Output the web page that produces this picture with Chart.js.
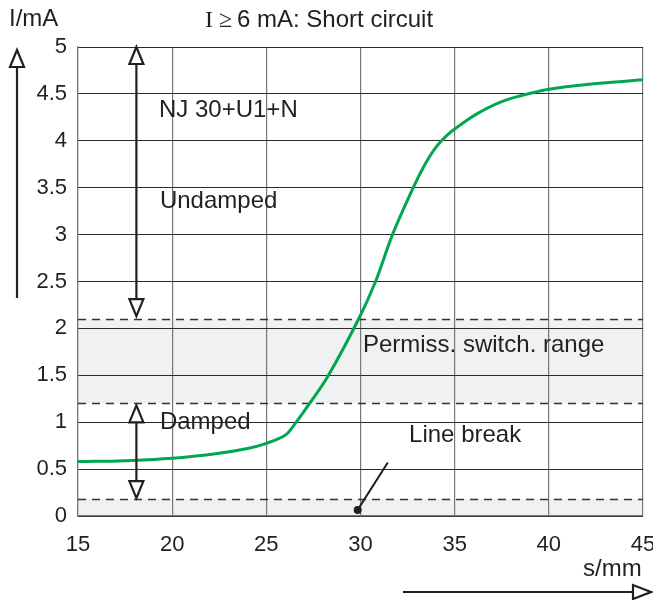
<!DOCTYPE html>
<html>
<head>
<meta charset="utf-8">
<script src="https://cdn.jsdelivr.net/npm/chart.js@4.4.0/dist/chart.umd.min.js"></script>
<style>
body{margin:0;background:#fff;}
</style>
</head>
<body>
<canvas id="myChart" width="653" height="600"></canvas>
<script>
// -- switching curve: distance s/mm -> current I/mA --
const sVals = [15, 17.5, 20, 22.5, 24, 25, 26, 26.4, 27.3, 28.3, 29.9, 30.8, 31.7, 32.8, 33.4, 34.0, 34.6, 35.3, 36.2, 37.4, 38.5, 40, 42, 45];
const iVals = [0.58, 0.59, 0.615, 0.67, 0.72, 0.775, 0.86, 0.95, 1.2, 1.5, 2.1, 2.5, 3.0, 3.5, 3.74, 3.93, 4.06, 4.17, 4.29, 4.41, 4.48, 4.55, 4.6, 4.65];

// -- shaded ranges and dashed limits (mA) --
const bandRanges = [[1.2, 2.1], [0, 0.18]];
const dashLevels = [2.1, 1.2, 0.18];

// -- double arrows at s = 18.1 (undamped / damped) --
const arrowS = 18.1;
const undampedSpan = [5.0, 2.13];
const dampedSpan = [1.18, 0.19];

// -- line break marker: dot -> leader end --
const breakDot = [29.85, 0.065];
const breakEnd = [31.45, 0.57];

// -- text notes, placed in data units --
const notes = [
    {text: 'NJ 30+U1+N', s: 19.3, i: 4.25},
    {text: 'Undamped', s: 19.35, i: 3.28},
    {text: 'Damped', s: 19.35, i: 0.93},
    {text: 'Permiss. switch. range', s: 30.13, i: 1.75},
    {text: 'Line break', s: 32.58, i: 0.79}
];

const ink = '#231f20';
const sans = '"Liberation Sans", Arial, sans-serif';

function arrowHead(ctx, tx, ty, dir, len, half)
{
    ctx.beginPath();
    ctx.moveTo(tx, ty);
    if (dir == 'up') { ctx.lineTo(tx - half, ty + len); ctx.lineTo(tx + half, ty + len); }
    else if (dir == 'down') { ctx.lineTo(tx - half, ty - len); ctx.lineTo(tx + half, ty - len); }
    else { ctx.lineTo(tx - len, ty - half); ctx.lineTo(tx - len, ty + half); }
    ctx.closePath();
    ctx.fillStyle = '#fff';
    ctx.fill();
    ctx.stroke();
}

function doubleArrow(ctx, px, top, bot)
{
    const len = 17, half = 7;
    ctx.beginPath();
    ctx.moveTo(px, top + len);
    ctx.lineTo(px, bot - len);
    ctx.stroke();
    arrowHead(ctx, px, top, 'up', len, half);
    arrowHead(ctx, px, bot, 'down', len, half);
}

const decorations = {
    id: 'decorations',
    beforeDraw(chart) {
        const {ctx, chartArea: a, scales: {y}} = chart;
        ctx.save();
        ctx.fillStyle = '#f0f1f3';
        for (const [lo, hi] of bandRanges) {
            const t = y.getPixelForValue(hi), b = y.getPixelForValue(lo);
            ctx.fillRect(a.left, t, a.right - a.left, b - t);
        }
        ctx.restore();
    },
    beforeDatasetsDraw(chart) {
        const {ctx, chartArea: a, scales: {y}} = chart;
        ctx.save();
        ctx.strokeStyle = '#333';
        ctx.lineWidth = 1.5;
        ctx.setLineDash([8, 6]);
        for (const v of dashLevels) {
            const py = Math.round(y.getPixelForValue(v)) + 0.5;
            ctx.beginPath();
            ctx.moveTo(a.left, py);
            ctx.lineTo(a.right, py);
            ctx.stroke();
        }
        ctx.restore();
    },
    afterDatasetsDraw(chart) {
        const {ctx, chartArea: a, scales: {x, y}} = chart;
        ctx.save();
        ctx.strokeStyle = ink;
        ctx.lineWidth = 2.2;

        const ax = x.getPixelForValue(arrowS);
        doubleArrow(ctx, ax, y.getPixelForValue(undampedSpan[0]), y.getPixelForValue(undampedSpan[1]));
        doubleArrow(ctx, ax, y.getPixelForValue(dampedSpan[0]), y.getPixelForValue(dampedSpan[1]));

        // axis direction arrows outside the plot
        const lx = a.left - 61;
        ctx.beginPath();
        ctx.moveTo(lx, a.top + 20);
        ctx.lineTo(lx, a.top + 251);
        ctx.stroke();
        arrowHead(ctx, lx, a.top + 3, 'up', 17, 7);
        const by = a.bottom + 76;
        ctx.beginPath();
        ctx.moveTo(a.left + 325, by);
        ctx.lineTo(a.right - 10, by);
        ctx.stroke();
        arrowHead(ctx, a.right + 8, by, 'right', 18, 7);

        // line break leader
        const dx = x.getPixelForValue(breakDot[0]), dy = y.getPixelForValue(breakDot[1]);
        ctx.lineWidth = 2;
        ctx.beginPath();
        ctx.moveTo(dx, dy);
        ctx.lineTo(x.getPixelForValue(breakEnd[0]), y.getPixelForValue(breakEnd[1]));
        ctx.stroke();
        ctx.fillStyle = ink;
        ctx.beginPath();
        ctx.arc(dx, dy, 4, 0, Math.PI * 2);
        ctx.fill();

        // notes
        ctx.font = '24px ' + sans;
        ctx.textAlign = 'left';
        ctx.textBaseline = 'alphabetic';
        for (const n of notes)
            ctx.fillText(n.text, x.getPixelForValue(n.s), y.getPixelForValue(n.i));

        // axis names and header
        ctx.fillText('I/mA', 9, 26);
        ctx.fillText('s/mm', 583, 576);
        ctx.font = '24px "Liberation Serif", "Times New Roman", serif';
        ctx.fillText('I \u2265', 205, 27);
        ctx.font = '24px ' + sans;
        ctx.fillText('6 mA: Short circuit', 237, 27);
        ctx.restore();
    }
};

const ctx = document.getElementById('myChart').getContext('2d');
const myChart = new Chart(ctx, {
    type: 'scatter',
    data: {
        datasets: [{
            data: sVals.map((s, k) => ({x: s, y: iVals[k]})),
            showLine: true,
            borderColor: '#00a650',
            borderWidth: 3,
            pointRadius: 0,
            tension: 0.4
        }]
    },
    options: {
        responsive: false,
        animation: false,
        devicePixelRatio: 1,
        layout: {padding: {top: 47, right: 10, bottom: 0, left: 0}},
        plugins: {legend: {display: false}, tooltip: {enabled: false}},
        scales: {
            x: {
                type: 'linear', min: 15, max: 45,
                afterFit: s => { s.height = 84; s.paddingLeft = 0; s.paddingRight = 0; },
                ticks: {stepSize: 5, color: ink, font: {family: sans, size: 22}, padding: 16, maxRotation: 0},
                grid: {color: '#777', lineWidth: 1.2, drawTicks: false},
                border: {color: '#777', width: 1.2}
            },
            y: {
                type: 'linear', min: 0, max: 5,
                afterFit: s => { s.width = 78; s.paddingTop = 0; s.paddingBottom = 0; },
                ticks: {stepSize: 0.5, color: ink, font: {family: sans, size: 22}, padding: 11, callback: v => String(v)},
                grid: {color: '#2a2a2a', lineWidth: 1, drawTicks: false},
                border: {color: '#777', width: 1.2}
            }
        }
    },
    plugins: [decorations]
});
</script>
</body>
</html>
